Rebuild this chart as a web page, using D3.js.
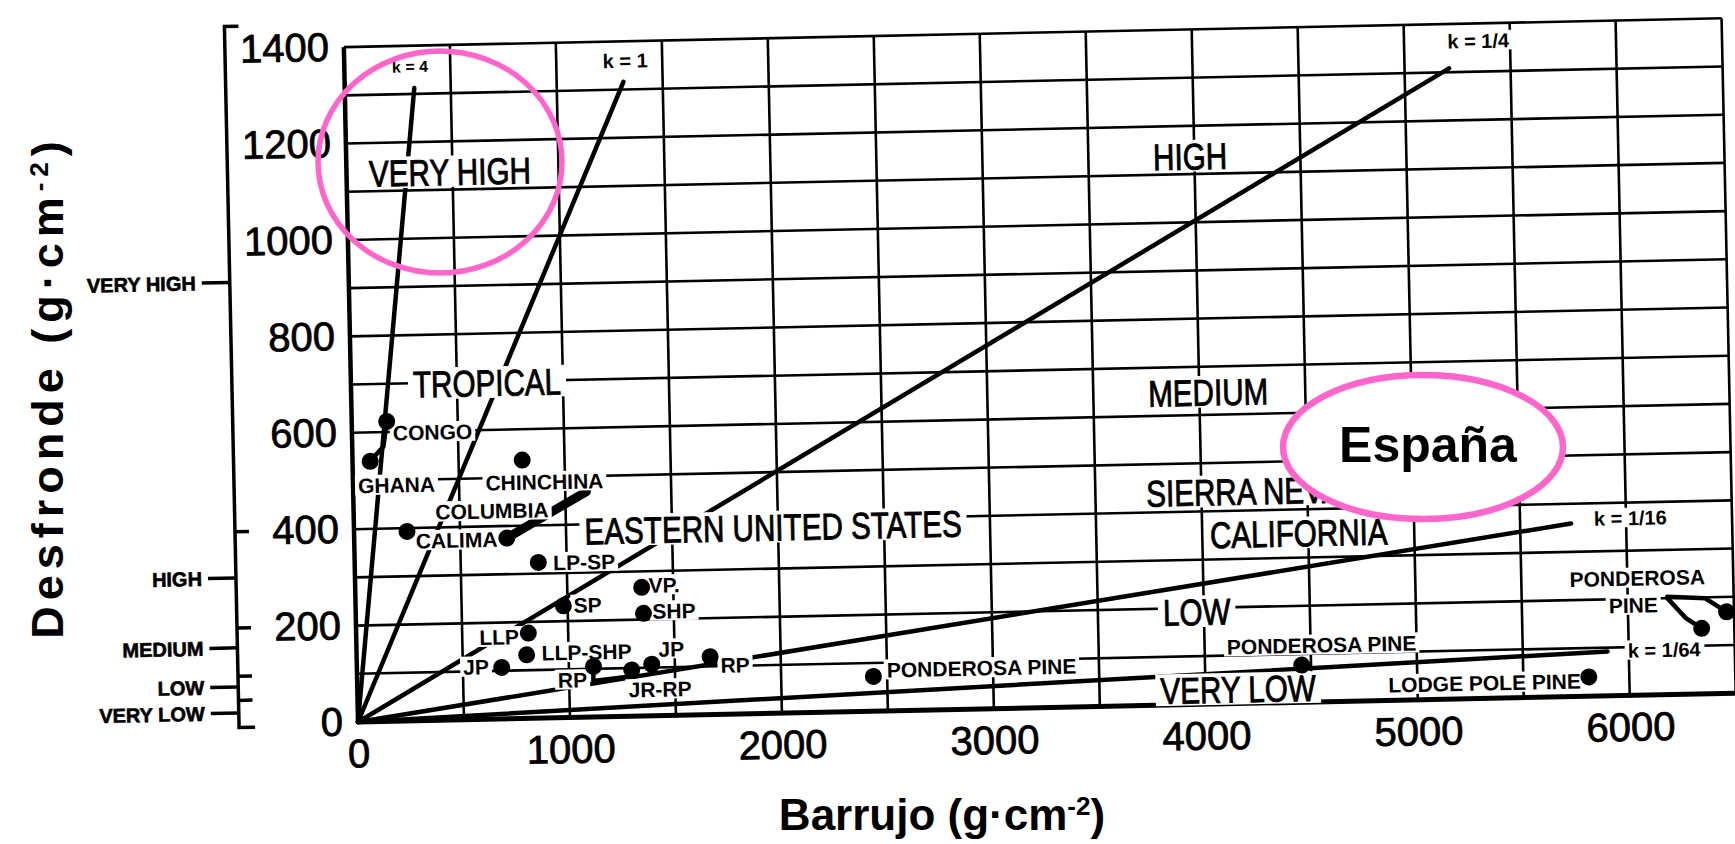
<!DOCTYPE html>
<html>
<head>
<meta charset="utf-8">
<script src="https://cdn.jsdelivr.net/npm/d3@7"></script>
<style>
  body { margin: 0; background: #fff; }
  svg { display: block; }
</style>
</head>
<body>
<div id="chart"></div>
<script>
const WIDTH = 1735, HEIGHT = 844;
const FONT = "'Liberation Sans', Arial, sans-serif";

// axes / grid
const xTicks = [0, 1000, 2000, 3000, 4000, 5000, 6000];
const yTicks = [0, 200, 400, 600, 800, 1000, 1200, 1400];
const xGrid = [0, 500, 1000, 1500, 2000, 2500, 3000, 3500, 4000, 4500, 5000, 5500, 6000, 6500];
const yGrid = [0, 100, 200, 300, 400, 500, 600, 700, 800, 900, 1000, 1100, 1200, 1300, 1400];

// class scale drawn left of the y axis
const classNames = ["VERY HIGH", "HIGH", "MEDIUM", "LOW", "VERY LOW"];
const classY = [917, 304, 159, 78, 24];
const classMarks = [400, 200, 100, 50];

// k lines (litterfall = k * forest floor), from the origin to these ends
const kNames = ["k = 4", "k = 1", "k = 1/4", "k = 1/16", "k = 1/64"];
const kEndX = [328, 1315, 5210, 5740, 5900];
const kEndY = [1312, 1316, 1308, 359, 92];
const kLabelX = [310, 1325, 5350, 6020, 6167];
const kLabelY = [1357, 1360, 1364, 368, 93];

// sites (barrujo, desfronde)
const siteX = [165, 83, 800, 250, 720, 866, 980, 812, 802, 683, 1116, 1296, 1391, 1351, 1357, 1667, 2435, 4456, 5809, 6346, 6465];
const siteY = [622, 540, 536, 393, 375, 323, 232, 177, 132, 107, 105, 96, 107, 267, 213, 120, 72, 77, 40, 136, 169];

// ranges joining sites
const ranges = [
  [[83, 540], [147, 570], [165, 622]],
  [[1116, 105], [1114, 75], [1279, 82], [1296, 96]],
  [[6187, 203], [6366, 198], [6465, 169]],
  [[6187, 200], [6274, 157], [6346, 136]]
];
const columbiaRange = [[720, 375], [1100, 468]];

// site names
const siteText = ["CONGO", "GHANA", "CHINCHINA", "COLUMBIA", "CALIMA", "LP-SP", "SP", "VP.", "SHP", "LLP", "LLP-SHP", "JP", "RP", "JP", "JR-RP", "RP",
  "PONDEROSA PINE", "PONDEROSA PINE", "LODGE POLE PINE", "PONDEROSA", "PINE"];
const siteTextX = [380, 205, 903, 653, 483, 1082, 1094, 1457, 1501, 674, 1085, 562, 1016, 1484, 1428, 1784, 2946, 4552, 5317, 6047, 6026];
const siteTextY = [598, 490, 490, 432, 373, 322, 233, 271, 217, 170, 135, 109, 78, 138, 55, 102, 85, 118, 32, 243, 187];

// zone names
const zoneText = ["VERY HIGH", "TROPICAL", "EASTERN UNITED STATES", "HIGH", "MEDIUM", "SIERRA NEVADA", "CALIFORNIA", "LOW", "VERY LOW"];
const zoneX = [488, 642, 1977, 3980, 4042, 4297, 4455, 3966, 4154];
const zoneY = [1137, 698, 386, 1137, 647, 440, 351, 192, 30];

const svg = d3.select("#chart").append("svg")
    .attr("width", WIDTH)
    .attr("height", HEIGHT)
    .style("background", "#fff");

// the scanned figure sits slightly tilted on the page
let frame = svg.append("g")
    .attr("transform", "translate(358, 722) rotate(-1.2)");

let x = d3.scaleLinear().domain([0, 6500]).range([0, 1378]);
let y = d3.scaleLinear().domain([0, 1400]).range([0, -675]);

// white patch behind a caps-only label, so lines stop at its edges
function backdrop(sel, size, pad) {
    sel.each(function() {
        let b = this.getBBox();
        let cy = +this.getAttribute("y");
        d3.select(this.parentNode).insert("rect", () => this)
            .attr("x", b.x - pad).attr("width", b.width + 2 * pad)
            .attr("y", cy - size * 0.36 - 3).attr("height", size * 0.72 + 5)
            .attr("fill", "#fff");
    });
}

// grid
frame.append("g").selectAll("line").data(xGrid).join("line")
    .attr("x1", d => x(d)).attr("x2", d => x(d))
    .attr("y1", y(0)).attr("y2", y(1400))
    .attr("stroke", "#000")
    .attr("stroke-width", d => (d == 0 ? 4.5 : 2.6));

frame.append("g").selectAll("line").data(yGrid).join("line")
    .attr("x1", x(0)).attr("x2", x(6500))
    .attr("y1", d => y(d)).attr("y2", d => y(d))
    .attr("stroke", "#000")
    .attr("stroke-width", d => (d == 0 ? 5 : 2.6));

// main axes labels
let yAxis = frame.append("g")
    .call(d3.axisLeft(y).tickValues(yTicks).tickSize(0).tickPadding(15).tickFormat(d3.format("d")));
yAxis.select(".domain").remove();
yAxis.selectAll("text")
    .attr("font-family", FONT).attr("font-size", 40).attr("fill", "#000")
    .attr("stroke", "#000").attr("stroke-width", 0.8);

let xAxis = frame.append("g")
    .call(d3.axisBottom(x).tickValues(xTicks).tickSize(0).tickPadding(17).tickFormat(d3.format("d")));
xAxis.select(".domain").remove();
xAxis.selectAll("text")
    .attr("font-family", FONT).attr("font-size", 40).attr("fill", "#000")
    .attr("stroke", "#000").attr("stroke-width", 0.8);

// class scale
const classAxisX = -119;
let classAxis = frame.append("g").attr("fill", "none").attr("stroke", "#000").attr("stroke-width", 3.5);
classAxis.append("path")
    .attr("d", `M${classAxisX + 14},${y(1448)} H${classAxisX} V${y(0) + 3} H${classAxisX + 16}`);
classAxis.selectAll(".mark").data(classMarks).join("line")
    .attr("x1", classAxisX).attr("x2", classAxisX + 14)
    .attr("y1", d => y(d)).attr("y2", d => y(d));
classAxis.selectAll(".cls").data(classY).join("line")
    .attr("x1", classAxisX - 28).attr("x2", classAxisX)
    .attr("y1", d => y(d)).attr("y2", d => y(d));

frame.append("g").selectAll("text").data(classNames).join("text")
    .attr("x", classAxisX - 34)
    .attr("y", (d, i) => y(classY[i]))
    .attr("dy", "0.36em")
    .attr("text-anchor", "end")
    .attr("font-family", FONT).attr("font-weight", "bold").attr("font-size", 20)
    .attr("stroke", "#000").attr("stroke-width", 0.6)
    .text(d => d);

// k lines
frame.append("g").selectAll("line").data(kNames).join("line")
    .attr("x1", x(0)).attr("y1", y(0))
    .attr("x2", (d, i) => x(kEndX[i])).attr("y2", (d, i) => y(kEndY[i]))
    .attr("stroke", "#000").attr("stroke-width", 4.5).attr("stroke-linecap", "round");

// ranges
let line = d3.line().x(d => x(d[0])).y(d => y(d[1]));
frame.append("g").selectAll("path").data(ranges).join("path")
    .attr("d", line)
    .attr("fill", "none").attr("stroke", "#000").attr("stroke-width", 4.5)
    .attr("stroke-linejoin", "round").attr("stroke-linecap", "round");

frame.append("path")
    .attr("d", line(columbiaRange))
    .attr("fill", "none").attr("stroke", "#000").attr("stroke-width", 9)
    .attr("stroke-linecap", "round");

// zone labels, narrow lettering
let zoneLayer = frame.append("g");
let zones = zoneLayer.selectAll("text").data(zoneText).join("text")
    .attr("x", (d, i) => x(zoneX[i]))
    .attr("y", (d, i) => y(zoneY[i]))
    .attr("dy", "0.36em")
    .attr("text-anchor", "middle")
    .attr("font-family", FONT).attr("font-size", 37)
    .attr("stroke", "#000").attr("stroke-width", 0.9)
    .text(d => d);
zones.each(function() {
    let len = this.getComputedTextLength();
    d3.select(this).attr("textLength", len * 0.8).attr("lengthAdjust", "spacingAndGlyphs");
});
backdrop(zones, 37, 5);

// site labels
let sites = frame.append("g").selectAll("text").data(siteText).join("text")
    .attr("x", (d, i) => x(siteTextX[i]))
    .attr("y", (d, i) => y(siteTextY[i]))
    .attr("dy", "0.36em")
    .attr("text-anchor", "middle")
    .attr("font-family", FONT).attr("font-weight", "bold").attr("font-size", 21)
    .text(d => d);
backdrop(sites, 21, 3);

// k labels
let kLabels = frame.append("g").selectAll("text").data(kNames).join("text")
    .attr("x", (d, i) => x(kLabelX[i]))
    .attr("y", (d, i) => y(kLabelY[i]))
    .attr("dy", "0.36em")
    .attr("text-anchor", "middle")
    .attr("font-family", FONT).attr("font-weight", "bold")
    .attr("font-size", (d, i) => (i == 0 ? 16 : 20))
    .text(d => d);
backdrop(kLabels, 20, 3);

// site dots
frame.append("g").selectAll("circle").data(siteX).join("circle")
    .attr("cx", d => x(d))
    .attr("cy", (d, i) => y(siteY[i]))
    .attr("r", 8.5)
    .attr("fill", "#000");

// axis titles
svg.append("text")
    .attr("x", 942).attr("y", 830)
    .attr("text-anchor", "middle")
    .attr("font-family", FONT).attr("font-weight", "bold").attr("font-size", 44)
    .text("Barrujo  (g·cm")
    .append("tspan").attr("baseline-shift", "super").attr("font-size", 26).text("-2")
    .select(function() { return this.parentNode; })
    .append("tspan").text(")");

svg.append("text")
    .attr("transform", "translate(63, 387) rotate(-90)")
    .attr("text-anchor", "middle")
    .attr("font-family", FONT).attr("font-weight", "bold").attr("font-size", 45)
    .attr("letter-spacing", 6)
    .text("Desfronde (g·cm")
    .append("tspan").attr("baseline-shift", "super").attr("font-size", 26).text("-2")
    .select(function() { return this.parentNode; })
    .append("tspan").text(")");

// pink marks added on top
const PINK = "#ff66cc";
svg.append("ellipse")
    .attr("cx", 440).attr("cy", 162).attr("rx", 122).attr("ry", 111)
    .attr("fill", "none").attr("stroke", PINK).attr("stroke-width", 5.5);

svg.append("ellipse")
    .attr("cx", 1423).attr("cy", 447).attr("rx", 140).attr("ry", 72)
    .attr("fill", "#fff").attr("stroke", PINK).attr("stroke-width", 6.5);

svg.append("text")
    .attr("x", 1428).attr("y", 462)
    .attr("text-anchor", "middle")
    .attr("font-family", FONT).attr("font-weight", "bold").attr("font-size", 50)
    .text("España");
</script>
</body>
</html>
